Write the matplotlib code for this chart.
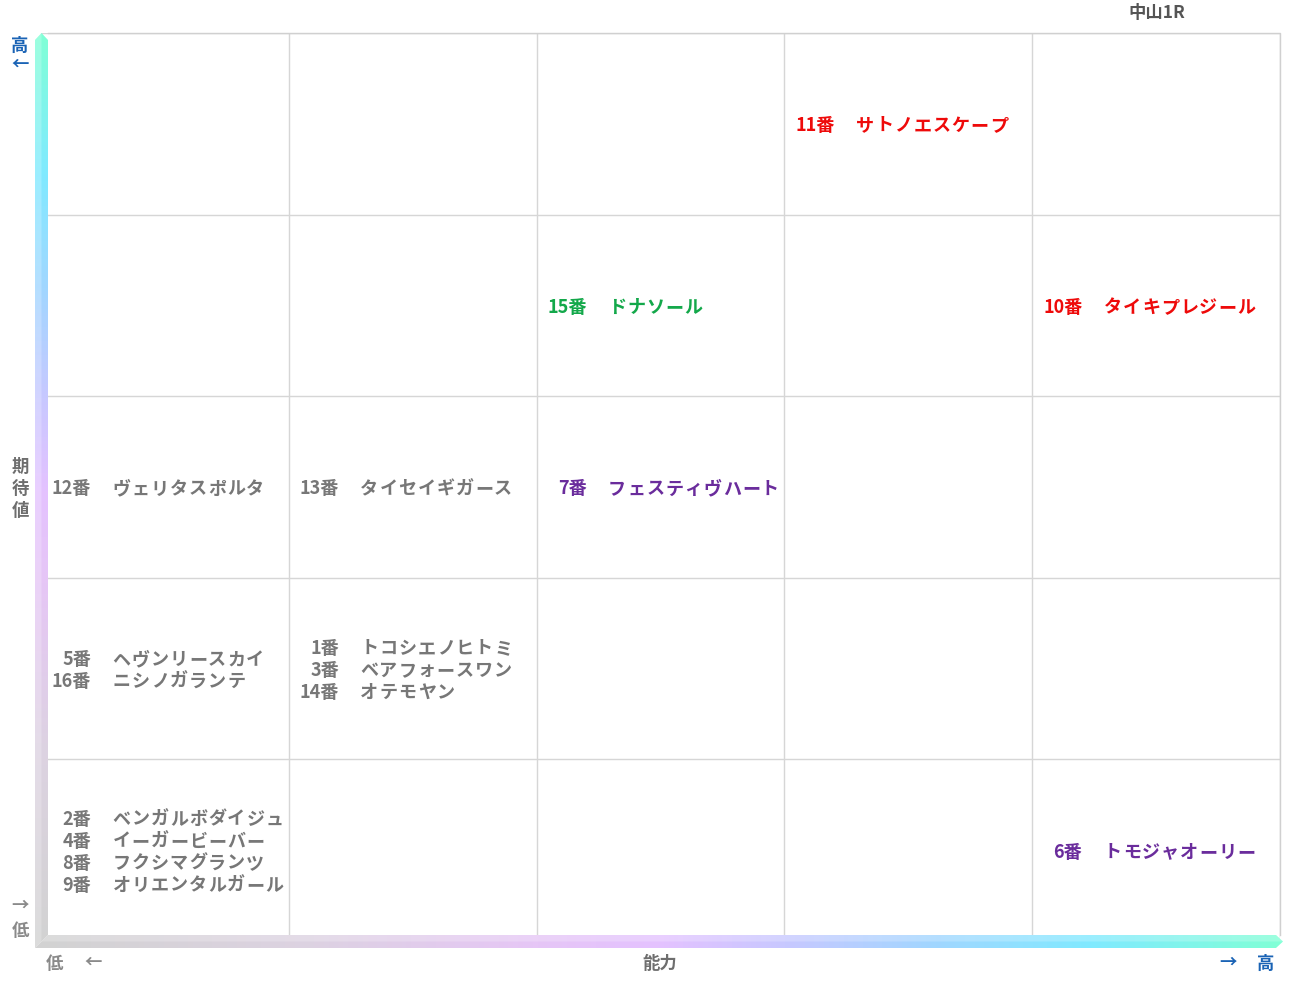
import matplotlib
matplotlib.use("Agg")
import matplotlib.pyplot as plt
import numpy as np
from matplotlib.colors import LinearSegmentedColormap
from matplotlib.patches import Polygon
from matplotlib.transforms import ScaledTranslation

plt.rcParams['font.family'] = ['Noto Sans CJK JP', 'DejaVu Sans']

# ---------------- data ----------------
title = "中山1R"
x_label = "能力"
y_label = "期待値"
low_label = "低"
high_label = "高"
n_levels = 5

horse_numbers = [11, 15, 10, 12, 13, 7, 5, 16, 1, 3, 14, 2, 4, 8, 9, 6]
horse_names = ["サトノエスケープ", "ドナソール", "タイキプレジール", "ヴェリタスポルタ",
               "タイセイギガース", "フェスティヴハート", "ヘヴンリースカイ", "ニシノガランテ",
               "トコシエノヒトミ", "ベアフォースワン", "オテモヤン", "ベンガルボダイジュ",
               "イーガービーバー", "フクシマグランツ", "オリエンタルガール", "トモジャオーリー"]
ability = [3, 2, 4, 0, 1, 2, 0, 0, 1, 1, 1, 0, 0, 0, 0, 4]      # column 0..4 (low -> high)
expectation = [4, 3, 3, 2, 2, 2, 1, 1, 1, 1, 1, 0, 0, 0, 0, 0]  # row 0..4 (low -> high)
mark = ["red", "green", "red", "gray", "gray", "purple", "gray", "gray",
        "gray", "gray", "gray", "gray", "gray", "gray", "gray", "purple"]

mark_colors = {"red": "#ee0a0a", "green": "#13a84a", "purple": "#6a2c9c", "gray": "#777777"}

# ---------------- figure ----------------
W, H, DPI = 1291, 983, 100
fig = plt.figure(figsize=(W / DPI, H / DPI), dpi=DPI)
fig.patch.set_facecolor("white")

gl, gr, gt, gb = 41, 1280, 33, 941
ax = fig.add_axes([gl / W, (H - gb) / H, (gr - gl) / W, (gb - gt) / H])
ax.set_xlim(0, n_levels)
ax.set_ylim(0, n_levels)
ax.set_xticks([])
ax.set_yticks([])
for s in ax.spines.values():
    s.set_visible(False)
for k in range(1, n_levels + 1):
    ax.axvline(k, color="#d6d6d6", lw=1.0)
    ax.axhline(k, color="#d6d6d6", lw=1.0)

def px(dx, dy):
    return ScaledTranslation(dx / DPI, -dy / DPI, fig.dpi_scale_trans)

# group by cell
cells = {}
for i in range(len(horse_numbers)):
    cells.setdefault((ability[i], expectation[i]), []).append(i)

fs = 13.0
line_h = 22
pitch = 19.1
for (c, r), idx in cells.items():
    idx = sorted(idx, key=lambda j: horse_numbers[j])
    n = len(idx)
    for k, j in enumerate(idx):
        dy = (k - (n - 1) / 2) * line_h + 2
        col = mark_colors[mark[j]]
        ax.text(c, r + 0.5, f"{horse_numbers[j]}番", ha="right", va="center",
                fontsize=fs, fontweight="bold", color=col,
                transform=ax.transData + px(50, dy))
        for m, ch in enumerate(horse_names[j]):
            ax.text(c, r + 0.5, ch, ha="center", va="center",
                    fontsize=fs, fontweight="bold", color=col,
                    transform=ax.transData + px(71 + pitch * (m + 0.5), dy))

# ---------------- overlay: gradient axis bars and labels ----------------
ov = fig.add_axes([0, 0, 1, 1], zorder=5)
ov.set_xlim(0, W)
ov.set_ylim(H, 0)
ov.axis("off")
ov.patch.set_alpha(0)

cmap = LinearSegmentedColormap.from_list("axisgrad", [
    (0.00, "#d2d2d2"), (0.22, "#ddd2e2"), (0.40, "#e6c6f6"), (0.50, "#e4c2ff"),
    (0.60, "#c8c8ff"), (0.72, "#a2d6ff"), (0.85, "#80eaff"), (1.00, "#80ffd6")])

grad = np.linspace(0, 1, 256)

# vertical bar
vpoly = Polygon([(35, 40), (41.5, 33), (48, 40), (48, 935), (35, 948)], closed=True,
                facecolor="none", edgecolor="none")
ov.add_patch(vpoly)
im = ov.imshow(grad[:, None], cmap=cmap, aspect="auto", extent=(35, 48, 948, 33),
               origin="lower", interpolation="bilinear")
im.set_clip_path(vpoly)
ov.add_patch(Polygon([(35, 40), (41.5, 33), (41.5, 941.5), (35, 948)], closed=True,
                     facecolor="white", alpha=0.22, edgecolor="none"))

# horizontal bar
hpoly = Polygon([(35, 948), (48, 935), (1276, 935), (1283, 941.5), (1276, 948)], closed=True,
                facecolor="none", edgecolor="none")
ov.add_patch(hpoly)
im2 = ov.imshow(grad[None, :], cmap=cmap, aspect="auto", extent=(35, 1283, 948, 935),
                origin="upper", interpolation="bilinear")
im2.set_clip_path(hpoly)
ov.add_patch(Polygon([(41.5, 941.5), (48, 935), (1276, 935), (1283, 941.5)], closed=True,
                     facecolor="white", alpha=0.22, edgecolor="none"))

ov.set_xlim(0, W)
ov.set_ylim(H, 0)

# outer border (top/right)
ov.plot([48, 1280, 1280], [33, 33, 935], color="#d0d0d0", lw=1.0)

blue = "#1a63b5"
gray_lab = "#6e6e6e"
lab_fs = 12.5
ov.text(20, 46, high_label, ha="center", va="center", fontsize=lab_fs, fontweight="bold", color=blue)
ov.text(20, 65, "←", ha="center", va="center", fontsize=lab_fs, fontweight="bold", color=blue)
for k, ch in enumerate(y_label):
    ov.text(20, 467 + 22 * k, ch, ha="center", va="center", fontsize=lab_fs,
            fontweight="bold", color=gray_lab)
ov.text(20, 906, "→", ha="center", va="center", fontsize=lab_fs, fontweight="bold", color="#8a8a8a")
ov.text(20, 931, low_label, ha="center", va="center", fontsize=lab_fs, fontweight="bold", color="#8a8a8a")
ov.text(54, 964, low_label, ha="center", va="center", fontsize=lab_fs, fontweight="bold", color="#8a8a8a")
ov.text(93, 963, "←", ha="center", va="center", fontsize=lab_fs, fontweight="bold", color="#8a8a8a")
ov.text(660, 964, x_label, ha="center", va="center", fontsize=lab_fs, fontweight="bold", color=gray_lab)
ov.text(1228, 963, "→", ha="center", va="center", fontsize=lab_fs, fontweight="bold", color=blue)
ov.text(1266, 964, high_label, ha="center", va="center", fontsize=lab_fs, fontweight="bold", color=blue)
ov.text(1157, 13, title, ha="center", va="center", fontsize=lab_fs, fontweight="bold", color="#555555")

fig.savefig("out.png", dpi=DPI, facecolor="white")
